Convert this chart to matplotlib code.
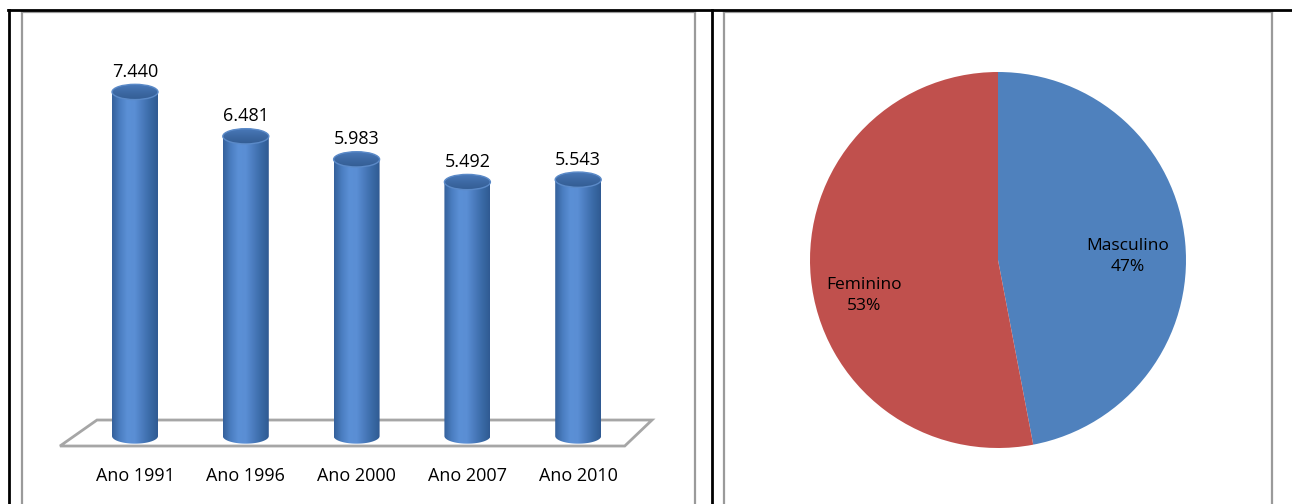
import numpy as np
import matplotlib.pyplot as plt
from matplotlib.patches import Polygon, Ellipse
from matplotlib.colors import LinearSegmentedColormap

plt.rcParams['font.family'] = ['Open Sans', 'DejaVu Sans']

# ---------------------------
# data
# ---------------------------
anos = ["Ano 1991", "Ano 1996", "Ano 2000", "Ano 2007", "Ano 2010"]
populacao = [7440, 6481, 5983, 5492, 5543]

sexo = ["Masculino", "Feminino"]
sexo_pct = [47, 53]
sexo_cores = ["#4F81BD", "#C0504D"]
# label positions (pie coordinates)
sexo_label_pos = [(0.69, 0.02), (-0.71, -0.19)]

W, H = 1292, 504
fig = plt.figure(figsize=(W / 100, H / 100), dpi=100)


def px_axes(x0, y0, x1, y1):
    # box in pixels (top-left origin)
    return fig.add_axes([x0 / W, 1 - y1 / H, (x1 - x0) / W, (y1 - y0) / H])


# ---------------------------
# frame (table borders)
# ---------------------------
frame = px_axes(0, 0, W, H)
frame.set_xlim(0, W)
frame.set_ylim(H, 0)
frame.axis("off")
grey = "#9a9a9a"
for xa, xb in [(22, 695), (724, 1272)]:
    frame.plot([xa, xa], [12, H], color=grey, lw=1.6)
    frame.plot([xb, xb], [12, H], color=grey, lw=1.6)
    frame.plot([xa, xb], [12, 12], color=grey, lw=1.6)
frame.plot([8, W], [10, 10], color="black", lw=2)
frame.plot([9, 9], [10, H], color="black", lw=2)
frame.plot([712, 712], [10, H], color="black", lw=2)

# ---------------------------
# cylinder bars
# ---------------------------
ax = px_axes(24.2, 12, 689, 504)
ax.set_xlim(-1, 5)
ax.set_ylim(-1470, 9169)
ax.axis("off")

# floor
floor = Polygon([(-0.343, 346), (4.666, 346), (4.42, -216), (-0.677, -216)],
                closed=True, facecolor="white", edgecolor="#a6a6a6", lw=2, zorder=1)
ax.add_patch(floor)

body_cmap = LinearSegmentedColormap.from_list(
    "body", ["#34609a", "#4a7dc0", "#5b90d6", "#5a8ed4", "#4a7bbd", "#3a6aa6", "#2f5a92"])
top_cmap = LinearSegmentedColormap.from_list("top", ["#335d94", "#3d69a4", "#4a7aba"])

w = 0.415
e = 330  # ellipse height in data units
grad = np.linspace(0, 1, 256).reshape(1, -1)
vgrad = np.linspace(0, 1, 256).reshape(-1, 1)

for i, v in enumerate(populacao):
    th = np.linspace(0, -np.pi, 60)
    pts = [(i - w / 2, v), (i + w / 2, v)]
    pts += [(i + w / 2 * np.cos(t), e / 2 * np.sin(t)) for t in th]
    body = Polygon(pts, closed=True, facecolor="none", edgecolor="none")
    ax.add_patch(body)
    im = ax.imshow(grad, cmap=body_cmap, aspect="auto", zorder=2,
                   extent=[i - w / 2, i + w / 2, -e / 2, v])
    im.set_clip_path(body)

    top = Ellipse((i, v), w, e, facecolor="none", edgecolor="#5b8ac8", lw=1, zorder=4)
    ax.add_patch(top)
    imt = ax.imshow(vgrad, cmap=top_cmap, aspect="auto", zorder=3, origin="lower",
                    extent=[i - w / 2, i + w / 2, v - e / 2, v + e / 2])
    imt.set_clip_path(top)

    lab = f"{v:,}".replace(",", ".")
    ax.text(i, v + 240, lab, ha="center", va="bottom", fontsize=13)
    ax.text(i, -865, anos[i], ha="center", va="center", fontsize=13)

# ---------------------------
# pie
# ---------------------------
ax2 = px_axes(810, 72, 1186, 448)
ax2.pie(sexo_pct, colors=sexo_cores, startangle=90, counterclock=False,
        wedgeprops=dict(linewidth=0))
ax2.set_xlim(-1, 1)
ax2.set_ylim(-1, 1)
for (lx, ly), nome, p in zip(sexo_label_pos, sexo, sexo_pct):
    ax2.text(lx, ly, f"{nome}\n{p}%", ha="center", va="center",
             fontsize=12.5, linespacing=1.4)

fig.savefig("out.png", dpi=100)
